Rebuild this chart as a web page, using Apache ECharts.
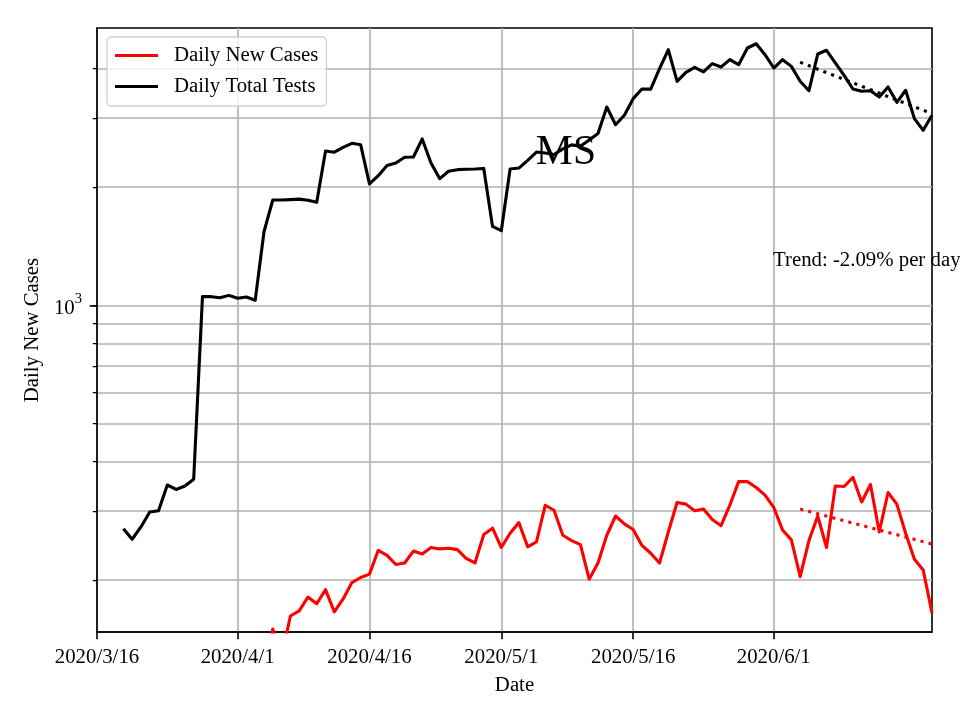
<!DOCTYPE html>
<html><head><meta charset="utf-8">
<script src="https://cdn.jsdelivr.net/npm/echarts@6/dist/echarts.min.js"></script>
<style>html,body{margin:0;padding:0;background:#fff}#c{width:960px;height:720px}</style>
</head><body><div id="c"></div>
<script>
const dates = [
 '2020-03-19','2020-03-20','2020-03-21','2020-03-22','2020-03-23','2020-03-24','2020-03-25','2020-03-26','2020-03-27','2020-03-28','2020-03-29','2020-03-30','2020-03-31',
 '2020-04-01','2020-04-02','2020-04-03','2020-04-04','2020-04-05','2020-04-06','2020-04-07','2020-04-08','2020-04-09','2020-04-10',
 '2020-04-11','2020-04-12','2020-04-13','2020-04-14','2020-04-15','2020-04-16','2020-04-17','2020-04-18','2020-04-19','2020-04-20',
 '2020-04-21','2020-04-22','2020-04-23','2020-04-24','2020-04-25','2020-04-26','2020-04-27','2020-04-28','2020-04-29','2020-04-30',
 '2020-05-01','2020-05-02','2020-05-03','2020-05-04','2020-05-05','2020-05-06','2020-05-07','2020-05-08','2020-05-09','2020-05-10',
 '2020-05-11','2020-05-12','2020-05-13','2020-05-14','2020-05-15','2020-05-16','2020-05-17','2020-05-18','2020-05-19','2020-05-20',
 '2020-05-21','2020-05-22','2020-05-23','2020-05-24','2020-05-25','2020-05-26','2020-05-27','2020-05-28','2020-05-29','2020-05-30','2020-05-31',
 '2020-06-01','2020-06-02','2020-06-03','2020-06-04','2020-06-05','2020-06-06','2020-06-07','2020-06-08','2020-06-09','2020-06-10',
 '2020-06-11','2020-06-12','2020-06-13','2020-06-14','2020-06-15','2020-06-16','2020-06-17','2020-06-18','2020-06-19'
];
const totalTests = [
 270,254,273,298,300,349,340,347,361,1052,1052,1045,1060,
 1042,1050,1030,1539,1853,1853,1858,1863,1850,1828,
 2470,2452,2523,2583,2561,2036,2137,2270,2302,2380,
 2384,2650,2302,2100,2193,2214,2220,2222,2230,1588,
 1548,2223,2235,2338,2455,2440,2420,2500,2560,2540,
 2634,2736,3196,2881,3045,3356,3551,3548,4000,4470,
 3715,3916,4033,3924,4120,4041,4217,4095,4516,4630,4343,
 4016,4217,4055,3715,3516,4360,4456,4137,3848,3551,
 3504,3516,3388,3593,3285,3525,2985,2788,3045
];
const newCases = [
 null,null,null,null,null,null,null,null,null,null,null,null,null,
 null,null,null,115,150,127,162,167,181,174,
 189,166,179,197,203,207,238,231,219,221,
 237,233,242,240,241,239,227,221,261,271,
 242,263,280,243,250,310,301,260,252,246,
 201,221,260,291,278,269,245,234,221,265,
 315,312,300,303,285,275,310,356,356,344,329,
 306,268,253,204,252,291,242,347,346,365,
 316,350,265,334,312,263,226,212,165
];
const trendDates = ['2020-06-04','2020-06-19'];
const testsTrend = [4153, 3073];
const casesTrend = [303, 247];
const xTickDates = ['2020-03-16','2020-04-01','2020-04-16','2020-05-01','2020-05-16','2020-06-01'];
const xTickLabels = ['2020/3/16','2020/4/1','2020/4/16','2020/5/1','2020/5/16','2020/6/1'];
const yGridValues = [200,300,400,500,600,700,800,900,1000,2000,3000,4000];
const yMajorValues = [1000];
const yMajorLabels = [['10','3']];
const xRange = ['2020-03-16','2020-06-19'];
const yRange = [147.5, 5077];
const seriesNames = ['Daily New Cases','Daily Total Tests'];
const titleText = 'MS';
const trendText = 'Trend: -2.09% per day';

const FONT = '"Liberation Serif", "DejaVu Serif", serif';
const ts = (d) => +echarts.time.parse(d);
const pair = (xs, ys) => xs.map((d, i) => [ts(d), ys[i]]);
const chart = echarts.init(document.getElementById('c'), null, {renderer: 'canvas'});
const xTickTs = xTickDates.map(ts);

const yBase = {
  type: 'log', logBase: 10, min: yRange[0], max: yRange[1], gridIndex: 0, position: 'left'
};

chart.setOption({
  animation: false,
  backgroundColor: '#fff',
  grid: {left: 97, right: 28, top: 28, bottom: 88, show: true, borderColor: '#000', borderWidth: 1.6, backgroundColor: 'transparent'},
  title: [
    {text: titleText, left: 566, top: 132, textAlign: 'center', padding: 0,
     textStyle: {fontFamily: FONT, fontSize: 41.7, fontWeight: 'normal', color: '#000'}},
    {text: trendText, left: 773, top: 250, padding: 0,
     textStyle: {fontFamily: FONT, fontSize: 20.8, fontWeight: 'normal', color: '#000'}}
  ],
  legend: {
    orient: 'vertical', left: 107, top: 37,
    data: seriesNames.map(n => ({name: n, icon: 'rect'})),
    itemWidth: 43, itemHeight: 3, itemGap: 10,
    padding: [8, 8, 9, 8],
    backgroundColor: 'rgba(255,255,255,0.8)', borderColor: '#d0d0d0', borderWidth: 1.3, borderRadius: 4,
    textStyle: {fontFamily: FONT, fontSize: 20.8, color: '#000', padding: [0, 0, 0, 11]}
  },
  xAxis: {
    type: 'value', min: ts(xRange[0]), max: ts(xRange[1]),
    name: 'Date', nameLocation: 'middle', nameGap: 43,
    nameTextStyle: {fontFamily: FONT, fontSize: 20.8, color: '#000'},
    axisLine: {show: true, lineStyle: {color: '#000', width: 1.6}},
    axisTick: {show: true, inside: false, length: 7.3, lineStyle: {color: '#000', width: 1.6}, customValues: xTickTs},
    axisLabel: {show: true, margin: 15, fontFamily: FONT, fontSize: 20.8, color: '#000', customValues: xTickTs,
      hideOverlap: false, showMinLabel: true, showMaxLabel: true,
      formatter: (v) => { const i = xTickTs.indexOf(+v); return i >= 0 ? xTickLabels[i] : ''; }},
    splitLine: {show: true, lineStyle: {color: '#b0b0b0', width: 1.6}}
  },
  yAxis: [
    Object.assign({}, yBase, {
      name: 'Daily New Cases', nameLocation: 'middle', nameGap: 52,
      nameTextStyle: {fontFamily: FONT, fontSize: 20.8, color: '#000'},
      axisLine: {show: true, lineStyle: {color: '#000', width: 1.6}},
      axisTick: {show: true, inside: false, length: 4.2, lineStyle: {color: '#000', width: 1.25}, customValues: yGridValues},
      axisLabel: {show: true, margin: 15, customValues: yMajorValues, color: '#000',
        formatter: (v) => { const i = yMajorValues.indexOf(Math.round(v)); if (i < 0) return ''; return '{b|' + yMajorLabels[i][0] + '}{s|' + yMajorLabels[i][1] + '}'; },
        rich: {
          b: {fontFamily: FONT, fontSize: 20.8, color: '#000', padding: [6, 0, 0, 0]},
          s: {fontFamily: FONT, fontSize: 14.6, color: '#000', verticalAlign: 'top'}
        }},
      splitLine: {show: true, lineStyle: {color: '#b0b0b0', width: 1.6}},
      minorTick: {show: false}, minorSplitLine: {show: false}
    }),
    Object.assign({}, yBase, {
      axisLine: {show: false},
      axisTick: {show: true, inside: false, length: 7.3, lineStyle: {color: '#000', width: 1.6}, customValues: yMajorValues},
      axisLabel: {show: false},
      splitLine: {show: false}
    })
  ],
  series: [
    {name: seriesNames[0], type: 'line', yAxisIndex: 0, data: pair(dates, newCases), showSymbol: false, symbol: 'none',
     connectNulls: false, clip: true, color: '#ff0000', itemStyle: {color: '#ff0000'},
     lineStyle: {color: '#ff0000', width: 3.1, join: 'round'}, z: 3},
    {name: seriesNames[1], type: 'line', yAxisIndex: 0, data: pair(dates, totalTests), showSymbol: false, symbol: 'none',
     clip: true, color: '#000000', itemStyle: {color: '#000000'},
     lineStyle: {color: '#000000', width: 3.1, join: 'round'}, z: 3},
    {name: 'cases trend', type: 'line', yAxisIndex: 0, data: pair(trendDates, casesTrend), showSymbol: false, symbol: 'none',
     clip: true, lineStyle: {color: '#ff0000', width: 3.1, type: [3.1, 5.2]}, z: 4},
    {name: 'tests trend', type: 'line', yAxisIndex: 0, data: pair(trendDates, testsTrend), showSymbol: false, symbol: 'none',
     clip: true, lineStyle: {color: '#000000', width: 3.1, type: [3.1, 5.2]}, z: 4}
  ]
});
</script>
</body></html>
